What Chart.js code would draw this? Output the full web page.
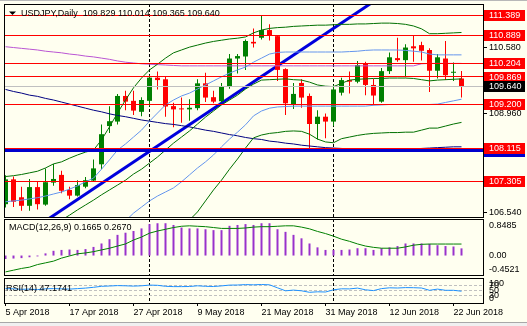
<!DOCTYPE html>
<html>
<head>
<meta charset="utf-8">
<title>USDJPY Daily</title>
<script src="https://cdn.jsdelivr.net/npm/chart.js@4.4.1/dist/chart.umd.min.js"></script>
<style>
  html, body { margin: 0; padding: 0; }
  body { width: 527px; height: 326px; background: #fffff0; position: relative; overflow: hidden; }
  canvas { position: absolute; left: 0; }
  .edge { position: absolute; left: 0; width: 527px; }
</style>
</head>
<body>
<canvas id="priceChart" width="527" height="218" style="top:0"></canvas>
<canvas id="macdChart" width="527" height="59" style="top:218px"></canvas>
<canvas id="rsiChart" width="527" height="49" style="top:277px"></canvas>
<div class="edge" style="top:0;height:1px;background:#b8b8b8"></div>
<div class="edge" style="top:322px;height:4px;background:#f0f0f0;border-top:1px solid #a8a8a8"></div>
<script>
const symbol = 'USDJPY,Daily';

const dates = ['5 Apr 2018','6 Apr 2018','9 Apr 2018','10 Apr 2018','11 Apr 2018','12 Apr 2018','13 Apr 2018','16 Apr 2018','17 Apr 2018','18 Apr 2018','19 Apr 2018','20 Apr 2018','23 Apr 2018','24 Apr 2018','25 Apr 2018','26 Apr 2018','27 Apr 2018','30 Apr 2018',
  '1 May 2018','2 May 2018','3 May 2018','4 May 2018','7 May 2018','8 May 2018','9 May 2018','10 May 2018','11 May 2018','14 May 2018','15 May 2018','16 May 2018','17 May 2018','18 May 2018','21 May 2018','22 May 2018','23 May 2018','24 May 2018','25 May 2018','28 May 2018','29 May 2018','30 May 2018','31 May 2018',
  '1 Jun 2018','4 Jun 2018','5 Jun 2018','6 Jun 2018','7 Jun 2018','8 Jun 2018','11 Jun 2018','12 Jun 2018','13 Jun 2018','14 Jun 2018','15 Jun 2018','18 Jun 2018','19 Jun 2018','20 Jun 2018','21 Jun 2018','22 Jun 2018','25 Jun 2018'];

const opens  = [106.74,107.35,106.91,106.70,107.16,106.73,107.27,107.46,107.09,106.95,107.17,107.32,107.72,108.66,108.77,109.40,109.28,109.01,109.28,109.85,109.81,109.15,109.09,109.07,109.10,109.71,109.37,109.27,109.63,110.32,110.37,110.73,110.83,111.02,110.87,110.06,109.20,109.72,109.40,108.71,108.89,108.77,109.48,109.79,109.75,110.19,109.67,109.26,110.01,110.33,110.28,110.62,110.65,110.53,110.02,110.32,109.97,109.829];
const highs  = [107.45,107.42,107.17,107.36,107.29,107.62,107.73,107.56,107.17,107.33,107.41,107.84,108.70,109.15,109.45,109.53,109.53,109.37,109.91,110.00,109.89,109.23,109.36,109.32,109.81,109.97,109.53,109.72,110.43,110.43,110.79,111.06,111.37,111.16,110.90,110.08,109.72,109.81,109.46,109.05,108.97,109.67,109.85,110.00,110.26,110.24,109.82,110.09,110.47,110.83,110.67,110.90,110.73,110.57,110.43,110.75,110.22,110.014];
const lows   = [106.66,106.67,106.58,106.58,106.61,106.70,107.19,107.01,106.86,106.93,107.13,107.30,107.60,108.49,108.70,109.05,108.93,108.90,109.15,109.56,108.89,108.63,108.74,108.79,109.05,109.25,109.22,109.24,109.58,109.95,110.04,110.59,110.79,110.76,109.77,108.93,109.08,109.11,108.11,108.33,108.36,108.66,109.41,109.46,109.71,109.42,109.17,109.23,109.94,110.24,109.86,110.24,110.27,109.50,109.83,109.79,109.77,109.365];
const closes = [107.35,106.80,106.70,107.16,106.74,107.28,107.36,107.07,106.95,107.21,107.33,107.62,108.46,108.78,109.40,109.26,109.04,109.30,109.85,109.79,109.14,109.07,109.07,109.11,109.71,109.36,109.26,109.64,110.32,110.38,110.75,110.69,111.02,110.88,110.04,109.22,109.45,109.36,108.71,108.89,108.77,109.56,109.79,109.75,110.16,109.67,109.41,110.01,110.35,110.28,110.59,110.57,110.51,110.02,110.35,109.91,109.97,109.640];

// Bollinger(20,2) dark green, Bollinger(20,1) light blue, SMA100 orchid, SMA200 navy
const bb2Up = [107.42,107.44,107.47,107.51,107.55,107.63,107.73,107.78,107.87,107.95,108.02,108.07,108.32,108.64,108.98,109.30,109.60,109.84,110.04,110.18,110.33,110.46,110.53,110.60,110.65,110.70,110.74,110.77,110.80,110.82,110.85,110.95,111.02,111.06,111.08,111.09,111.11,111.12,111.13,111.14,111.14,111.15,111.16,111.16,111.17,111.17,111.18,111.19,111.19,111.18,111.16,111.12,111.05,110.93,110.93,110.94,110.95,110.96];
const bbMid = [106.11,106.13,106.15,106.18,106.20,106.25,106.30,106.35,106.47,106.60,106.72,106.84,106.97,107.09,107.21,107.33,107.48,107.60,107.75,107.90,108.07,108.24,108.39,108.54,108.71,108.88,109.03,109.18,109.30,109.42,109.57,109.69,109.79,109.80,109.81,109.82,109.80,109.79,109.74,109.67,109.64,109.63,109.71,109.79,109.81,109.82,109.83,109.83,109.84,109.84,109.84,109.83,109.80,109.77,109.79,109.80,109.81,109.82];
const bb2Lo = [104.94,104.92,104.90,104.90,104.90,104.92,104.95,104.98,104.98,105.00,105.05,105.10,105.15,105.20,105.30,105.40,105.50,105.60,105.72,105.85,105.98,106.10,106.22,106.35,106.55,106.82,107.09,107.33,107.60,107.85,108.12,108.37,108.44,108.48,108.50,108.53,108.54,108.53,108.46,108.34,108.27,108.25,108.35,108.39,108.43,108.46,108.48,108.49,108.50,108.50,108.51,108.51,108.56,108.61,108.61,108.66,108.71,108.75];
const bb1Up = [106.80,106.82,106.84,106.87,106.90,106.94,106.99,107.04,107.11,107.19,107.29,107.38,107.60,107.83,108.07,108.22,108.39,108.56,108.78,108.98,109.18,109.30,109.40,109.47,109.57,109.67,109.77,109.87,109.96,110.04,110.11,110.23,110.33,110.43,110.47,110.48,110.48,110.48,110.48,110.48,110.48,110.48,110.48,110.49,110.50,110.52,110.53,110.53,110.53,110.53,110.52,110.50,110.48,110.43,110.41,110.41,110.41,110.41];
const bb1Lo = [105.56,105.55,105.55,105.55,105.56,105.58,105.60,105.62,105.68,105.75,105.85,105.95,106.05,106.15,106.25,106.33,106.52,106.67,106.82,106.94,107.04,107.14,107.29,107.46,107.63,107.78,107.95,108.15,108.34,108.51,108.69,108.91,109.03,109.10,109.13,109.14,109.15,109.15,109.15,109.15,109.15,109.15,109.15,109.15,109.15,109.15,109.17,109.18,109.19,109.19,109.19,109.19,109.19,109.19,109.20,109.24,109.28,109.32];
const sma100 = [110.61,110.59,110.57,110.55,110.53,110.50,110.48,110.46,110.43,110.41,110.38,110.36,110.33,110.30,110.26,110.23,110.21,110.19,110.18,110.17,110.16,110.15,110.14,110.14,110.14,110.14,110.14,110.14,110.14,110.14,110.14,110.14,110.14,110.14,110.14,110.14,110.14,110.14,110.14,110.14,110.14,110.14,110.14,110.14,110.14,110.14,110.14,110.14,110.14,110.14,110.14,110.14,110.19,110.20,110.20,110.20,110.20,110.20];
const sma200 = [109.56,109.51,109.47,109.42,109.39,109.34,109.30,109.25,109.20,109.15,109.10,109.05,109.01,108.96,108.92,108.89,108.85,108.81,108.78,108.75,108.72,108.70,108.67,108.64,108.60,108.56,108.53,108.49,108.45,108.42,108.38,108.35,108.33,108.29,108.27,108.24,108.22,108.19,108.17,108.15,108.13,108.12,108.11,108.10,108.09,108.08,108.08,108.08,108.08,108.08,108.08,108.10,108.11,108.12,108.13,108.14,108.15,108.15];

// drawn objects: support/resistance levels, a flat blue level and a rising trendline
const levels = [111.389, 110.889, 110.204, 109.869, 109.200, 108.115, 107.305];
const blueLevel = 108.05;
const trendX = [5, 47];
const trendY = [106.33, 111.85];

const priceRange = [106.425, 111.66];
const priceTicks = [106.540, 107.350, 108.155, 108.960, 109.770, 110.580, 111.390];

const macdHist = [-0.08,-0.07,-0.06,-0.04,-0.02,0.05,0.11,0.13,0.14,0.13,0.15,0.20,0.28,0.38,0.48,0.53,0.57,0.63,0.73,0.75,0.75,0.71,0.65,0.63,0.63,0.61,0.59,0.59,0.69,0.71,0.73,0.71,0.75,0.75,0.61,0.55,0.48,0.40,0.28,0.19,0.13,0.13,0.13,0.14,0.17,0.17,0.13,0.17,0.19,0.22,0.28,0.28,0.28,0.27,0.24,0.22,0.21,0.1665];
const macdSignal = [-0.38,-0.34,-0.30,-0.27,-0.21,-0.17,-0.13,-0.06,-0.01,0.04,0.06,0.09,0.13,0.17,0.22,0.27,0.36,0.43,0.52,0.57,0.61,0.65,0.68,0.69,0.68,0.67,0.65,0.63,0.63,0.63,0.64,0.66,0.67,0.67,0.68,0.69,0.69,0.66,0.62,0.56,0.51,0.45,0.38,0.33,0.27,0.22,0.19,0.17,0.17,0.17,0.20,0.24,0.26,0.267,0.267,0.267,0.267,0.2670];
const macdRange = [-0.4521, 0.8485];

const rsi = [57.6,56.8,54.8,55.6,53.6,56.8,57.6,56.8,55.6,57.6,59.6,62.8,66.8,68.0,69.6,68.8,67.6,68.8,71.6,70.8,66.8,65.6,65.6,66.0,68.8,66.8,66.0,68.4,71.6,72.0,73.6,72.8,74.0,72.8,60.8,48.8,51.6,48.8,42.8,44.8,44.0,52.8,56.8,56.4,59.6,52.8,49.6,57.6,60.8,60.0,61.6,61.2,60.0,50.8,55.6,50.8,50.8,47.1741];
const rsiLevels = [70, 50, 30];

const dateTicks = [0, 8, 16, 24, 32, 40, 48, 56];

const FONT = '9px "Liberation Sans", Arial, sans-serif';
Chart.defaults.font.family = '"Liberation Sans", Arial, sans-serif';
Chart.defaults.font.size = 9;
Chart.defaults.color = '#000';
Chart.defaults.animation = false;

const bull = '#008000', bear = '#ff0000';
const last = closes.length - 1;
const monthStarts = dates.map((d, i) => i).filter(i => i > 0 && dates[i].split(' ')[1] !== dates[i - 1].split(' ')[1]);
const pts = arr => arr.map((v, i) => ({ x: i, y: v }));
const candleColor = c => closes[c.dataIndex] >= opens[c.dataIndex] ? bull : bear;
const crisp = v => Math.round(v - 0.5) + 0.5;

// bar 0 sits half inside the left frame, free space of two bars on the right
const xAxis = {
  type: 'linear', min: -0.1875, max: 59.6875, offset: false, display: false
};
const rightAxis = (min, max, extra) => Object.assign({
  position: 'right', min, max,
  afterFit(s) { s.width = 44; s.paddingTop = 0; s.paddingBottom = 0; },
  border: { display: false },
  grid: { display: false },
  ticks: { display: false }
}, extra);

function line(data, color, order, width) {
  return { type: 'line', data: pts(data), borderColor: color, borderWidth: width || 1, pointRadius: 0, tension: 0, clip: 0, order };
}

function drawFrame(chart) {
  const { ctx, chartArea: a } = chart;
  ctx.save();
  ctx.strokeStyle = '#000';
  ctx.lineWidth = 1;
  ctx.setLineDash([]);
  ctx.strokeRect(Math.round(a.left) + 0.5, Math.round(a.top) + 0.5, Math.round(a.right - a.left), Math.round(a.bottom - a.top));
  ctx.restore();
}

function drawSeparators(chart) {
  const { ctx, chartArea: a, scales: { x } } = chart;
  ctx.save();
  ctx.strokeStyle = '#000';
  ctx.lineWidth = 1;
  ctx.setLineDash([3, 2]);
  monthStarts.forEach(i => {
    const px = crisp(x.getPixelForValue(i));
    ctx.beginPath(); ctx.moveTo(px, a.top); ctx.lineTo(px, a.bottom); ctx.stroke();
  });
  ctx.restore();
}

function hline(chart, price, color, width) {
  const { ctx, chartArea: a, scales: { y } } = chart;
  const py = width % 2 ? crisp(y.getPixelForValue(price)) : Math.round(y.getPixelForValue(price));
  ctx.strokeStyle = color;
  ctx.lineWidth = width;
  ctx.beginPath(); ctx.moveTo(a.left, py); ctx.lineTo(a.right, py); ctx.stroke();
}

function priceBox(chart, price, bg) {
  const { ctx, chartArea: a, scales: { y } } = chart;
  const py = Math.round(y.getPixelForValue(price));
  ctx.fillStyle = bg;
  ctx.fillRect(a.right + 1, py - 5, 41, 11);
  ctx.fillStyle = '#fff';
  ctx.font = FONT;
  ctx.textBaseline = 'middle';
  ctx.fillText(price.toFixed(3), a.right + 6, py + 0.5);
}

const pricePanel = {
  id: 'pricePanel',
  beforeDatasetsDraw(chart) {
    const { ctx, chartArea: a } = chart;
    ctx.save();
    ctx.beginPath(); ctx.rect(a.left, a.top, a.right - a.left, a.bottom - a.top); ctx.clip();
    drawSeparators(chart);
    ctx.restore();
  },
  afterDatasetsDraw(chart) {
    const { ctx, chartArea: a } = chart;
    ctx.save();
    ctx.beginPath(); ctx.rect(a.left, a.top, a.right - a.left, a.bottom - a.top); ctx.clip();
    hline(chart, closes[last], '#c0c0c0', 1);
    hline(chart, blueLevel, '#0000cd', 3);
    levels.forEach(p => hline(chart, p, '#ff0000', 1));
    ctx.restore();
  },
  afterDraw(chart) {
    const { ctx } = chart;
    drawFrame(chart);
    ctx.save();
    priceBox(chart, blueLevel, '#0000cd');
    levels.forEach(p => priceBox(chart, p, '#ff0000'));
    priceBox(chart, closes[last], '#000');
    // title
    ctx.fillStyle = '#000';
    ctx.beginPath(); ctx.moveTo(9, 11.5); ctx.lineTo(16, 11.5); ctx.lineTo(12.5, 15); ctx.closePath(); ctx.fill();
    ctx.font = FONT;
    ctx.textBaseline = 'alphabetic';
    const ohlc = [opens[last], highs[last], lows[last], closes[last]].map(v => v.toFixed(3)).join(' ');
    ctx.fillText(symbol + '  ' + ohlc, 21, 16);
    ctx.restore();
  }
};

new Chart(document.getElementById('priceChart'), {
  type: 'bar',
  data: {
    datasets: [
      line(bb2Up, '#007000', 1),
      line(bbMid, '#007000', 1),
      line(bb2Lo, '#007000', 1),
      line(bb1Up, '#6495ed', 2),
      line(bb1Lo, '#6495ed', 2),
      line(sma100, '#ba55d3', 3),
      line(sma200, '#000080', 3),
      { type: 'bar', data: opens.map((o, i) => ({ x: i, y: [o, closes[i]] })), backgroundColor: candleColor,
        maxBarThickness: 5, minBarLength: 1, grouped: false, clip: 0, order: 10 },
      { type: 'bar', data: lows.map((l, i) => ({ x: i, y: [l, highs[i]] })), backgroundColor: candleColor,
        maxBarThickness: 1, grouped: false, clip: 0, order: 11 },
      { type: 'line', data: trendX.map((x, i) => ({ x, y: trendY[i] })), borderColor: '#0000dd', borderWidth: 3,
        pointRadius: 0, clip: 0, order: 20 }
    ]
  },
  options: {
    responsive: false,
    events: [],
    layout: { padding: { left: 4, top: 4, right: 0, bottom: 1 } },
    plugins: { legend: { display: false }, tooltip: { enabled: false } },
    scales: {
      x: xAxis,
      y: rightAxis(priceRange[0], priceRange[1], {
        afterBuildTicks(s) { s.ticks = priceTicks.map(v => ({ value: v })); },
        grid: { display: true, drawOnChartArea: false, tickLength: 4, color: '#000' },
        ticks: { display: true, padding: 2, callback: v => v.toFixed(3) }
      })
    }
  },
  plugins: [pricePanel]
});

const macdPanel = {
  id: 'macdPanel',
  beforeDatasetsDraw(chart) { drawSeparators(chart); },
  afterDraw(chart) {
    const { ctx, chartArea: a, scales: { y } } = chart;
    drawFrame(chart);
    ctx.save();
    ctx.fillStyle = '#000';
    ctx.font = FONT;
    ctx.textBaseline = 'alphabetic';
    ctx.fillText('MACD(12,26,9) ' + macdHist[last].toFixed(4) + ' ' + macdSignal[last].toFixed(4), 9, a.top + 11);
    const tx = a.right + 6;
    ctx.textBaseline = 'top';
    ctx.fillText(macdRange[1].toFixed(4), tx, y.getPixelForValue(macdRange[1]) + 2);
    ctx.textBaseline = 'middle';
    ctx.fillText('0.00', tx, y.getPixelForValue(0));
    ctx.textBaseline = 'bottom';
    ctx.fillText(macdRange[0].toFixed(4), tx, y.getPixelForValue(macdRange[0]) - 1);
    ctx.restore();
  }
};

new Chart(document.getElementById('macdChart'), {
  type: 'bar',
  data: {
    datasets: [
      line(macdSignal, '#008000', 1),
      { type: 'bar', data: pts(macdHist), backgroundColor: '#9932cc', maxBarThickness: 2, grouped: false, clip: 0, order: 5 }
    ]
  },
  options: {
    responsive: false,
    events: [],
    layout: { padding: { left: 4, top: 1, right: 0, bottom: 2 } },
    plugins: { legend: { display: false }, tooltip: { enabled: false } },
    scales: { x: xAxis, y: rightAxis(macdRange[0], macdRange[1]) }
  },
  plugins: [macdPanel]
});

const rsiPanel = {
  id: 'rsiPanel',
  beforeDatasetsDraw(chart) {
    const { ctx, chartArea: a, scales: { y } } = chart;
    drawSeparators(chart);
    ctx.save();
    ctx.strokeStyle = '#c0c0c0';
    ctx.lineWidth = 1;
    ctx.setLineDash([3, 2]);
    rsiLevels.forEach(v => {
      const py = crisp(y.getPixelForValue(v));
      ctx.beginPath(); ctx.moveTo(a.left, py); ctx.lineTo(a.right, py); ctx.stroke();
    });
    ctx.restore();
  },
  afterDraw(chart) {
    const { ctx, chartArea: a, scales: { y } } = chart;
    drawFrame(chart);
    ctx.save();
    ctx.fillStyle = '#000';
    ctx.font = FONT;
    ctx.textBaseline = 'alphabetic';
    ctx.fillText('RSI(14) ' + rsi[last].toFixed(4), 6, a.top + 13);
    const tx = a.right + 6;
    ctx.textBaseline = 'top';
    ctx.fillText('100', tx, y.getPixelForValue(100) + 1);
    ctx.textBaseline = 'middle';
    rsiLevels.forEach(v => ctx.fillText(String(v), tx, y.getPixelForValue(v)));
    ctx.textBaseline = 'bottom';
    ctx.fillText('0', tx, y.getPixelForValue(0));
    ctx.restore();
  }
};

new Chart(document.getElementById('rsiChart'), {
  type: 'line',
  data: { datasets: [line(rsi, '#1e90ff', 1)] },
  options: {
    responsive: false,
    events: [],
    layout: { padding: { left: 4, top: 1, right: 0, bottom: 3 } },
    plugins: { legend: { display: false }, tooltip: { enabled: false } },
    scales: {
      x: Object.assign({}, xAxis, {
        display: true, position: 'bottom',
        afterBuildTicks(s) { s.ticks = dateTicks.map(v => ({ value: v })); },
        afterFit(s) { s.height = 20; s.paddingLeft = 0; s.paddingRight = 0; },
        border: { display: false },
        grid: { drawOnChartArea: false, tickLength: 3, color: '#000' },
        ticks: { align: 'start', autoSkip: false, maxRotation: 0, padding: 1, callback: v => dates[v] }
      }),
      y: rightAxis(0, 100)
    }
  },
  plugins: [rsiPanel]
});
</script>
</body>
</html>
